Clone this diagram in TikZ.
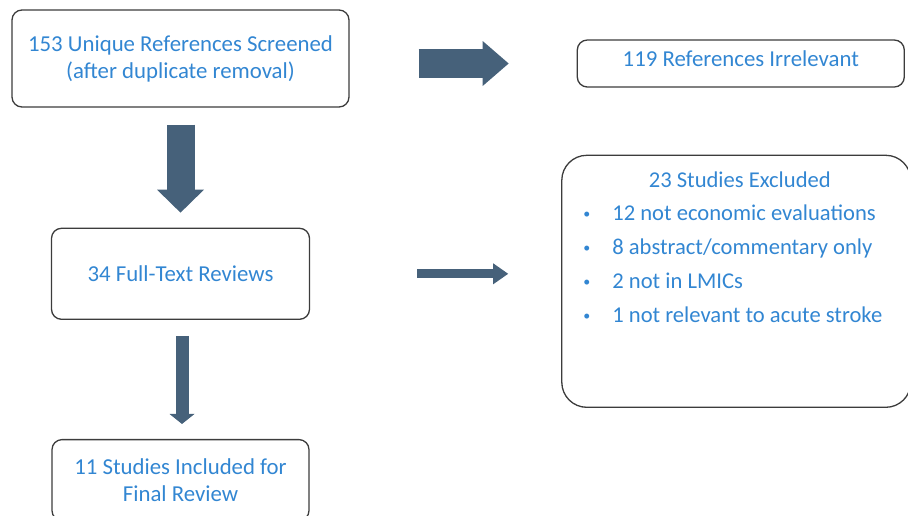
\documentclass[tikz,border=0pt]{standalone}
\usepackage{fontspec}
\setmainfont{Carlito}
\usetikzlibrary{positioning, arrows.meta}

\definecolor{flowtext}{RGB}{50,134,210}
\definecolor{flowarrow}{RGB}{70,97,122}
\definecolor{flowline}{RGB}{60,60,60}

\tikzset{
	flowbox/.style={draw=flowline, line width=1.3pt, rounded corners=10pt, align=center,
		text=flowtext, inner sep=0pt, font=\fontsize{22.8}{27}\selectfont},
	flowitem/.style={text=flowtext, inner sep=0pt, font=\fontsize{22.6}{27}\selectfont},
	bigarrow/.style={flowarrow, line width=#1}
}

\begin{document}
\begin{tikzpicture}[x=1pt, y=-1pt]
		\useasboundingbox (0,0) rectangle (908,515);
		
		% Define boxes
		\node[flowbox, minimum width=337pt, minimum height=97pt] (screen) at (180.5,58.5)
			{153 Unique References Screened\\(after duplicate removal)};
		\node[flowbox, minimum width=327pt, minimum height=47pt, text height=15pt, text depth=10pt,
			right=227pt of screen, yshift=-5pt] (irrel) {119 References Irrelevant};
		\node[flowbox, minimum width=258pt, minimum height=91pt, below=120pt of screen] (fulltext)
			{34 Full-Text Reviews};
		\node[flowbox, minimum width=257pt, minimum height=81pt, below=119pt of fulltext] (final)
			{11 Studies Included for\\Final Review};
		\node[flowbox, rounded corners=25pt, minimum width=349pt, minimum height=252pt,
			right=251pt of fulltext, yshift=-7.5pt] (excluded) {};
		
		% Exclusion reasons
		\node[flowitem, anchor=base] (extitle) at ([xshift=3.5pt, yshift=-33pt]excluded.north)
			{23 Studies Excluded};
		\foreach \txt [count=\i] in {12 not economic evaluations, 8 abstract/commentary only,
			2 not in LMICs, 1 not relevant to acute stroke}
			\node[flowitem, anchor=base west] (reason\i)
				at ([xshift=22pt, yshift={-66pt-34pt*(\i-1)}]excluded.north west)
				{\makebox[29pt][l]{\fontsize{14}{14}\selectfont\raisebox{2pt}{•}}\txt};
		
		% Draw block arrows
		\draw[bigarrow=29pt, -{Triangle[length=26pt, width=45pt, line width=0pt]},
			shorten <=69pt, shorten >=68pt] (screen.east |- irrel.west) -- (irrel.west);
		\draw[bigarrow=28pt, -{Triangle[length=23pt, width=47pt, line width=0pt]},
			shorten <=17pt, shorten >=15pt] (screen.south) -- (screen.south |- fulltext.north);
		\draw[bigarrow=9pt, -{Triangle[length=15pt, width=21pt, line width=0pt]},
			shorten <=107pt, shorten >=53pt] (fulltext.east) -- (fulltext.east -| excluded.west);
		\draw[bigarrow=13pt, -{Triangle[length=10pt, width=25pt, line width=0pt]},
			shorten <=16pt, shorten >=15pt] ([xshift=1.5pt]fulltext.south) -- ([xshift=1.5pt]fulltext.south |- final.north);
\end{tikzpicture}
\end{document}
